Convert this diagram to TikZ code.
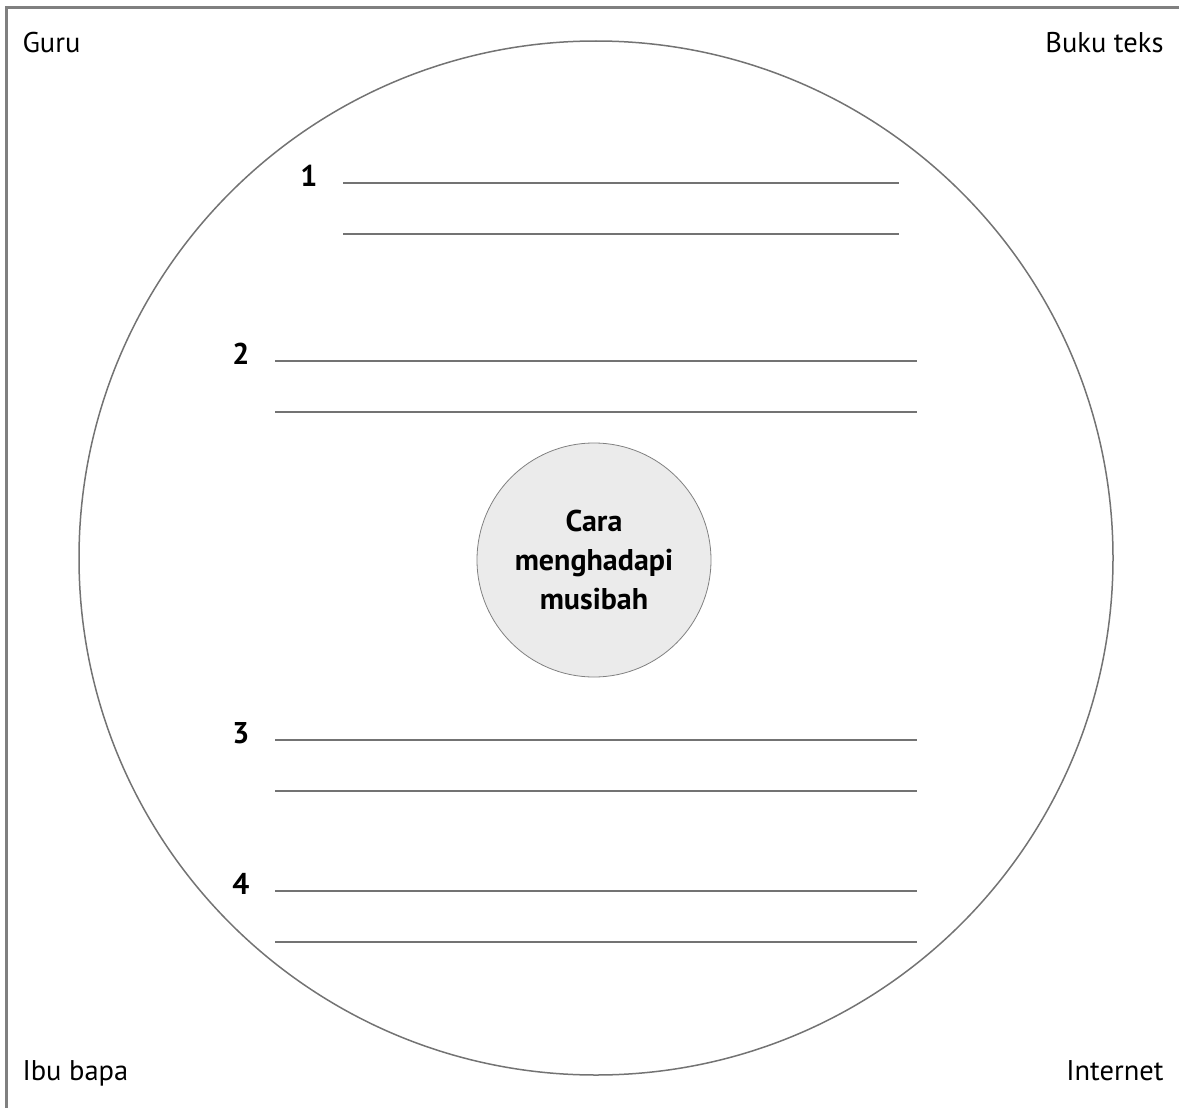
\documentclass[tikz,border=0pt]{standalone}
\usepackage{fontspec}
\setmainfont{PT Sans}
\usetikzlibrary{positioning}

\begin{document}
\begin{tikzpicture}[x=1pt,y=-1pt,
  frame/.style={draw=black!50,line width=3pt},
  ring/.style={circle,draw=black!55,line width=1.5pt,minimum size=1034pt,inner sep=0pt},
  hub/.style={circle,draw=black!50,line width=0.8pt,fill=black!8,minimum size=234pt,inner sep=0pt,align=center,font=\fontsize{30}{39}\selectfont\bfseries},
  src/.style={font=\fontsize{28.5}{32}\selectfont},
  num/.style={font=\fontsize{30}{32}\selectfont\bfseries},
  wline/.style={draw=black!55,line width=1.2pt}]
\useasboundingbox (0,0) rectangle (1179,1108);
% frame (only top and left show)
\draw[frame] (1179,7.5) -- (6.5,7.5) -- (6.5,1108);
% circles
\node[ring] (big) at (596,558) {};
\node[hub] (hub) at (594,560) {Cara\\menghadapi\\musibah};
% sources in the corners
\node[src,anchor=base west] (guru) at (19,53) {Guru};
\node[src,anchor=base east] (buku) at (1167,53) {Buku teks};
\node[src,anchor=base west] (ibu) at (19,1080) {Ibu bapa};
\node[src,anchor=base east] (net) at (1167,1080) {Internet};
% writing lines
\foreach \n/\y/\xa/\xb in {1/183/343/899,2/361/275/917,3/740/275/917,4/891/275/917} {
  \node[num,anchor=base east] (n\n) at (\xa-22,\y+3) {\n};
  \coordinate (a\n) at (\xa,\y);
  \coordinate (b\n) at (\xb,\y);
  \coordinate (c\n) at (\xa,\y+51);
  \coordinate (d\n) at (\xb,\y+51);
  \draw[wline] (a\n) -- (b\n);
  \draw[wline] (c\n) -- (d\n);
}
\end{tikzpicture}
\end{document}
